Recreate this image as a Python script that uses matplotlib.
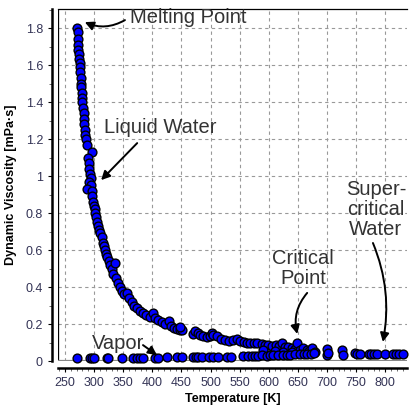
import matplotlib
matplotlib.use("Agg")
import matplotlib.pyplot as plt
from matplotlib.ticker import MultipleLocator

plt.rcParams['font.family'] = ['Liberation Sans', 'DejaVu Sans']

# liquid branch (saturated liquid, incl. scatter)
liquid_T = [271, 272, 272, 273, 273, 274, 274, 275, 276, 276, 277, 277, 278, 279, 279, 280,
            281, 282, 282, 283, 284, 285, 286, 288, 296, 290, 291, 292, 293, 294, 292, 295,
            288, 296, 297, 298, 300, 301, 302, 303, 305, 307, 309, 311, 313, 315, 317, 319,
            321, 323, 325, 327, 330, 333, 336, 338, 341, 345, 348, 352, 356, 360, 365, 369,
            373, 378, 384, 390, 396, 402, 405, 410, 416, 422, 428, 432, 437, 442, 447, 451,
            448, 470, 473, 478, 482, 487, 494, 499, 502, 505, 511, 518, 525, 532, 538, 545,
            550, 557, 562, 568, 575, 580, 588, 593, 599, 606, 612, 618, 623, 628, 633, 640,
            645, 649, 654, 659, 665, 670, 674, 680, 590, 610, 625, 640]
liquid_mu = [1.80, 1.78, 1.74, 1.71, 1.68, 1.66, 1.63, 1.61, 1.59, 1.56, 1.53, 1.50, 1.48, 1.45,
             1.42, 1.40, 1.37, 1.34, 1.31, 1.28, 1.25, 1.22, 1.20, 1.17, 1.13, 1.10, 1.07, 1.04,
             1.01, 0.99, 0.97, 0.95, 0.93, 0.92, 0.89, 0.86, 0.84, 0.82, 0.80, 0.78, 0.75, 0.73,
             0.71, 0.69, 0.67, 0.64, 0.62, 0.60, 0.58, 0.56, 0.54, 0.52, 0.50, 0.47, 0.53, 0.45,
             0.42, 0.40, 0.38, 0.36, 0.37, 0.34, 0.32, 0.30, 0.285, 0.27, 0.26, 0.25, 0.24, 0.26,
             0.23, 0.22, 0.21, 0.20, 0.215, 0.19, 0.18, 0.175, 0.17, 0.165, 0.185, 0.145, 0.16,
             0.15, 0.14, 0.135, 0.13, 0.135, 0.15, 0.14, 0.135, 0.12, 0.115, 0.11, 0.115, 0.12,
             0.11, 0.105, 0.10, 0.10, 0.095, 0.10, 0.09, 0.085, 0.087, 0.08, 0.085, 0.08, 0.097,
             0.075, 0.078, 0.07, 0.065, 0.095, 0.06, 0.07, 0.058, 0.055, 0.07, 0.05,
             0.06, 0.055, 0.05, 0.048]

# vapor branch
vapor_T = [271, 293, 296, 300, 322, 324, 348, 367, 373, 378, 384, 405, 410, 425, 442, 451,
           470, 475, 479, 485, 498, 505, 513, 528, 536, 556, 565, 572, 577, 582, 588, 597,
           602, 608, 616, 625, 632, 637, 645, 654, 660, 665, 672, 678]
vapor_mu = [0.017, 0.017, 0.017, 0.017, 0.017, 0.017, 0.017, 0.018, 0.018, 0.018, 0.018, 0.018,
            0.018, 0.019, 0.020, 0.020, 0.021, 0.022, 0.020, 0.022, 0.022, 0.023, 0.022, 0.023,
            0.024, 0.025, 0.026, 0.028, 0.027, 0.028, 0.030, 0.029, 0.031, 0.030, 0.032, 0.033,
            0.035, 0.034, 0.037, 0.038, 0.040, 0.036, 0.040, 0.042]

# supercritical water
super_T = [700, 700, 702, 726, 728, 748, 751, 757, 772, 776, 780, 786, 800, 814, 819, 824, 831]
super_mu = [0.065, 0.030, 0.045, 0.060, 0.035, 0.045, 0.040, 0.038, 0.040, 0.037, 0.038, 0.040,
            0.037, 0.037, 0.038, 0.038, 0.037]

fig = plt.figure(figsize=(4.09, 4.07), dpi=100)
ax = fig.add_axes([58 / 409, 46 / 407, 349 / 409, 352 / 407])

style = dict(s=40, c='#0000ff', edgecolors='black', linewidths=1.0, zorder=3, clip_on=False)
ax.scatter(liquid_T, liquid_mu, **style)
ax.scatter(vapor_T, vapor_mu, **style)
ax.scatter(super_T, super_mu, **style)

ax.set_xlim(238, 837.5)
ax.set_ylim(0, 1.903)

ax.xaxis.set_major_locator(MultipleLocator(50))
ax.xaxis.set_minor_locator(MultipleLocator(10))
ax.yaxis.set_minor_locator(MultipleLocator(0.1))
ax.set_yticks([0, 0.2, 0.4, 0.6, 0.8, 1.0, 1.2, 1.4, 1.6, 1.8])
ax.set_yticklabels(['0', '0.2', '0.4', '0.6', '0.8', '1', '1.2', '1.4', '1.6', '1.8'])
ax.set_xticks(range(250, 801, 50))

ax.grid(True, which='major', linestyle=(0, (3, 3)), color='#999999', linewidth=0.8)
ax.set_axisbelow(True)

# axis lines offset from the plot frame
for side in ['left', 'bottom']:
    ax.spines[side].set_linewidth(1.8)
ax.spines['left'].set_position(('outward', 4.3))
ax.spines['bottom'].set_position(('outward', 5))
ax.spines['right'].set_visible(False)
ax.spines['top'].set_linewidth(0.9)
ax.axvline(238, color='black', linewidth=0.9, zorder=2)
ax.axhline(0, color='#888888', linewidth=1.6, zorder=2)

ax.tick_params(which='major', length=3, width=0.8, colors='black', labelsize=9,
               labelcolor='#333355')
ax.tick_params(which='minor', length=2.5, width=0.6, colors='#555555')

ax.set_xlabel('Temperature [K]', fontsize=9, fontweight='bold', labelpad=3)
ax.set_ylabel('Dynamic Viscosity [mPa·s]', fontsize=9, fontweight='bold', labelpad=6)

# annotations: text, then arrows drawn tail -> head
txt = dict(fontsize=14.5, color='#333333', ha='center', va='center', linespacing=1.05)
ax.text(462, 1.855, 'Melting Point', **txt)
ax.text(413, 1.26, 'Liquid Water', **txt)
ax.text(341, 0.092, 'Vapor', **txt)
ax.text(659, 0.50, 'Critical\nPoint', **txt)
ax.text(784, 0.82, 'Super-\ncritical\nWater', **txt)

arr = dict(arrowstyle='-|>', color='black', linewidth=1.4, mutation_scale=13,
           shrinkA=0, shrinkB=0)
ax.annotate('', xy=(284, 1.832), xytext=(353, 1.843),
            arrowprops=dict(connectionstyle='arc3,rad=-0.25', **arr))
ax.annotate('', xy=(312, 0.978), xytext=(374, 1.178),
            arrowprops=dict(connectionstyle='arc3,rad=0', **arr))
ax.annotate('', xy=(408, 0.032), xytext=(384, 0.086),
            arrowprops=dict(connectionstyle='arc3,rad=0', **arr))
ax.annotate('', xy=(649, 0.146), xytext=(666, 0.368),
            arrowprops=dict(connectionstyle='arc3,rad=0.25', **arr))
ax.annotate('', xy=(796, 0.103), xytext=(779, 0.638),
            arrowprops=dict(connectionstyle='arc3,rad=-0.15', **arr))

fig.savefig('out.png', dpi=100)
